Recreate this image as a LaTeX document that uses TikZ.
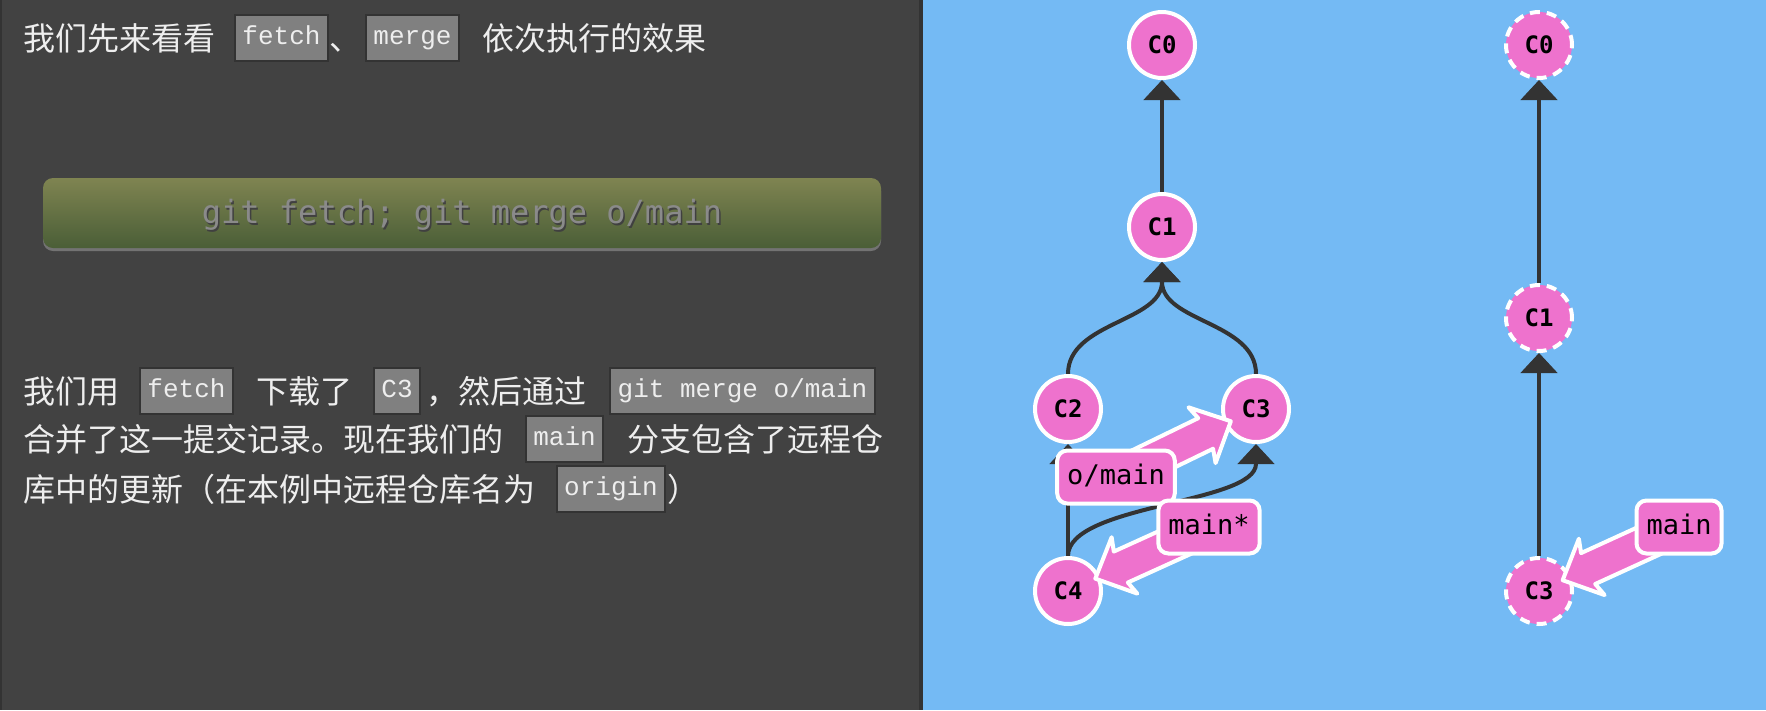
\documentclass[tikz,border=0pt]{standalone}
\usepackage{fontspec}
\usetikzlibrary{arrows.meta,calc}
\newfontfamily\cjk{Noto Sans CJK SC}
\newfontfamily\codefont{Liberation Mono}
\newfontfamily\gmono{DejaVu Sans Mono}
\definecolor{panelgray}{HTML}{424242}
\definecolor{skyblue}{HTML}{74BAF4}
\definecolor{commitpink}{HTML}{EE72CD}
\definecolor{edgedark}{HTML}{333333}
\definecolor{codegray}{HTML}{808080}
\definecolor{txtwhite}{HTML}{EEEEEE}
\definecolor{btntop}{HTML}{7F8451}
\definecolor{btnbot}{HTML}{4A5E37}
\definecolor{btntext}{HTML}{8A8A8A}
\pgfdeclarelayer{bg}
\pgfdeclarelayer{edges}
\pgfdeclarelayer{commits}
\pgfdeclarelayer{brarrows}
\pgfsetlayers{bg,edges,commits,brarrows,main}
\tikzset{
  cjktext/.style={anchor=base west, inner sep=0pt, text=txtwhite, font=\cjk\fontsize{32}{38}\selectfont},
  codebox/.style={fill=codegray, draw=edgedark, line width=2pt, text=txtwhite,
    font=\codefont\fontsize{26}{30}\selectfont, inner xsep=7.5pt, inner ysep=0pt,
    minimum height=46pt, text height=18pt, text depth=5pt},
  commit/.style={circle, fill=commitpink, draw=white, line width=4pt, minimum size=66pt,
    inner sep=0pt, font=\gmono\bfseries\fontsize{24}{26}\selectfont, text=black},
  ghost/.style={commit, dash pattern=on 10pt off 7pt},
  edge/.style={draw=edgedark, line width=4pt, -{Triangle[width=37pt,length=20pt,line width=1pt]}},
  brlabel/.style={rectangle, rounded corners=10pt, fill=commitpink, draw=white, line width=4pt,
    font=\gmono\fontsize{27}{30}\selectfont, text=black, inner xsep=10pt, inner ysep=0pt,
    minimum height=53pt, text height=19pt, text depth=5pt},
  brarrow/.style={fill=commitpink, draw=white, line width=4pt, line join=round},
  button/.style={rectangle, rounded corners=10pt, top color=btntop, bottom color=btnbot,
    minimum width=838pt, minimum height=70pt, inner sep=0pt},
  btnfont/.style={font=\gmono\fontsize{32}{36}\selectfont, inner sep=0pt},
}
% #1 = label node, #2 = tip coordinate
\newcommand{\brarrowdraw}[2]{%
  \draw[brarrow] (#2)
    -- ($(#2)!32pt!(#1)!31pt!90:(#1)$)
    -- ($(#2)!28pt!(#1)!17pt!90:(#1)$)
    -- ($(#1)!17pt!-90:(#2)$)
    -- ($(#1)!17pt!90:(#2)$)
    -- ($(#2)!28pt!(#1)!17pt!-90:(#1)$)
    -- ($(#2)!32pt!(#1)!31pt!-90:(#1)$)
    -- cycle;}
\begin{document}
\begin{tikzpicture}[x=1pt,y=-1pt]
\useasboundingbox (0,0) rectangle (1766,710);
\begin{pgfonlayer}{bg}
  \fill[panelgray] (0,0) rectangle (921,710);
  \fill[skyblue] (921,0) rectangle (1766,710);
  \fill[edgedark] (919,0) rectangle (923,710);
  \fill[edgedark] (0,0) rectangle (2,710);
\end{pgfonlayer}

% ---- left panel text ----
\node[cjktext] (t1a) at (23,50) {我们先来看看};
\node[codebox] (k1) at (281.5,38) {fetch};
\node[cjktext] (t1b) at (329,50) {、};
\node[codebox] (k2) at (412.5,38) {merge};
\node[cjktext] (t1c) at (482,50) {依次执行的效果};

\fill[black!55, rounded corners=10pt] (43,181) rectangle (881,251);
\node[button] (btn) at (462,213) {};
\node[btnfont, text=black!75] (btnsh) at (463.5,217) {git fetch; git merge o/main};
\node[btnfont, text=btntext] (btntxt) at (462,215) {git fetch; git merge o/main};

\node[cjktext] (p1a) at (23,403) {我们用};
\node[codebox] (k3) at (186.5,391) {fetch};
\node[cjktext] (p1b) at (256,403) {下载了};
\node[codebox] (k4) at (397,391) {C3};
\node[cjktext] (p1c) at (426,403) {，然后通过};
\node[codebox] (k5) at (742.5,391) {git merge o/main};
\node[cjktext] (p2a) at (23,451) {合并了这一提交记录。现在我们的};
\node[codebox] (k6) at (564.5,439) {main};
\node[cjktext] (p2b) at (627,451) {分支包含了远程仓};
\node[cjktext] (p3a) at (23,501) {库中的更新（在本例中远程仓库名为};
\node[codebox] (k7) at (611,489) {origin};
\node[cjktext] (p3b) at (667,501) {）};

% ---- commits ----
\begin{pgfonlayer}{commits}
  \node[commit] (c0) at (1162,45) {C0};
  \node[commit] (c1) at (1162,227) {C1};
  \node[commit] (c2) at (1068,409) {C2};
  \node[commit] (c3) at (1256,409) {C3};
  \node[commit] (c4) at (1068,591) {C4};
  \node[ghost] (r0) at (1539,45) {C0};
  \node[ghost] (r1) at (1539,318) {C1};
  \node[ghost] (r3) at (1539,591) {C3};
\end{pgfonlayer}

% ---- branch labels ----
\node[brlabel] (omain) at (1116,477) {o/main};
\node[brlabel] (mainstar) at (1209,527) {main*};
\node[brlabel] (rmain) at (1679,527) {main};

% ---- edges ----
\begin{pgfonlayer}{edges}
  \draw[edge] (c1) -- (c0);
  \draw[edge] (c2.north) .. controls +(0,-52) and +(0,60) .. (c1.south);
  \draw[edge] (c3.north) .. controls +(0,-52) and +(0,60) .. (c1.south);
  \draw[edge] (c4) -- (c2);
  \draw[edge] (c4.north) .. controls +(0,-52) and +(0,60) .. (c3.south);
  \draw[edge] (r1) -- (r0);
  \draw[edge] (r3) -- (r1);
\end{pgfonlayer}

% ---- branch arrows ----
\coordinate (tipa) at ($(c3)!28pt!(omain)$);
\coordinate (tipb) at ($(c4)!30pt!(mainstar)$);
\coordinate (tipc) at ($(r3)!26pt!(rmain)$);
\begin{pgfonlayer}{brarrows}
  \brarrowdraw{omain}{tipa}
  \brarrowdraw{mainstar}{tipb}
  \brarrowdraw{rmain}{tipc}
\end{pgfonlayer}
\end{tikzpicture}
\end{document}
